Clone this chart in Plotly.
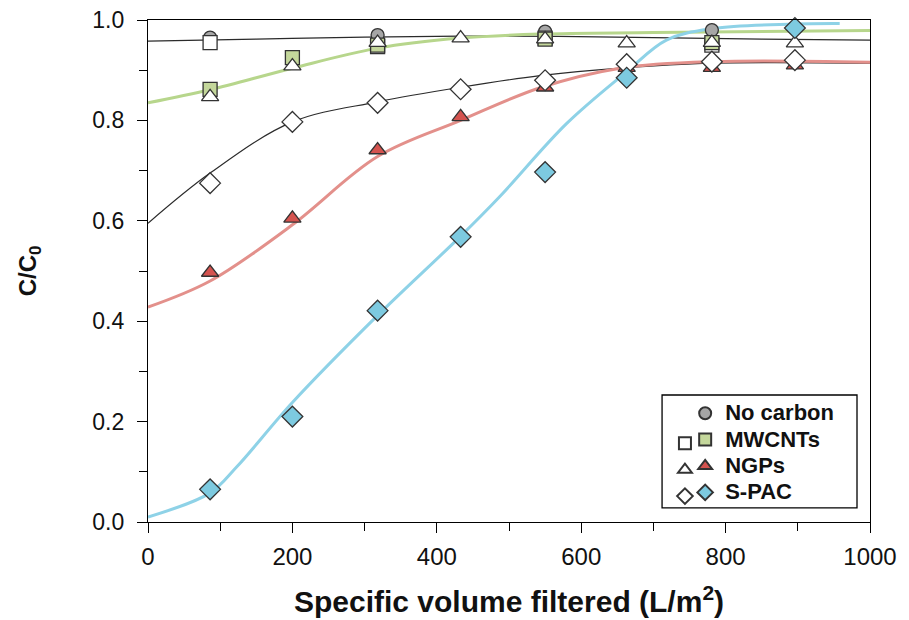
import plotly.graph_objects as go

# ---- data ----
# markers
nc_x = [86, 318, 550, 781]
nc_y = [0.965, 0.970, 0.977, 0.980]

mw_open_x = [86, 318, 550, 781]
mw_open_y = [0.955, 0.947, 0.964, 0.950]
mw_fill_x = [86, 200, 318, 550, 781]
mw_fill_y = [0.862, 0.925, 0.950, 0.962, 0.955]

ngp_open_x = [86, 200, 318, 433, 550, 663, 781, 896]
ngp_open_y = [0.847, 0.908, 0.955, 0.964, 0.962, 0.954, 0.955, 0.954]
ngp_fill_x = [86, 200, 318, 433, 550, 663, 781, 896]
ngp_fill_y = [0.497, 0.605, 0.741, 0.807, 0.866, 0.905, 0.905, 0.910]

spac_open_x = [86, 200, 318, 433, 550, 663, 781, 896]
spac_open_y = [0.675, 0.797, 0.835, 0.862, 0.880, 0.912, 0.917, 0.920]
spac_fill_x = [86, 200, 318, 433, 550, 663, 896]
spac_fill_y = [0.065, 0.210, 0.421, 0.568, 0.697, 0.885, 0.984]

# fitted curves (read at a few points, drawn as smooth splines)
fit_flat_x = [0, 150, 300, 500, 700, 850, 1000]
fit_flat_y = [0.958, 0.962, 0.966, 0.968, 0.965, 0.962, 0.960]

fit_mw_x = [0, 86, 200, 318, 433, 543, 700, 1000]
fit_mw_y = [0.835, 0.861, 0.904, 0.944, 0.964, 0.972, 0.975, 0.979]

fit_spac_open_x = [0, 86, 200, 318, 433, 543, 654, 782, 1000]
fit_spac_open_y = [0.595, 0.695, 0.797, 0.837, 0.866, 0.889, 0.904, 0.914, 0.914]

fit_ngp_x = [0, 86, 200, 318, 433, 543, 654, 782, 1000]
fit_ngp_y = [0.428, 0.480, 0.592, 0.728, 0.800, 0.865, 0.904, 0.917, 0.916]

fit_spac_x = [0, 86, 123, 200, 317, 432, 487, 580, 663, 718, 783, 894, 958]
fit_spac_y = [0.010, 0.058, 0.110, 0.238, 0.410, 0.568, 0.648, 0.794, 0.897, 0.960, 0.983, 0.992, 0.993]

x_ticks = [0, 200, 400, 600, 800, 1000]
y_ticks = [0.0, 0.2, 0.4, 0.6, 0.8, 1.0]

# ---- styles ----
EDGE = "#333333"
GRAY = "#a6a6a6"
GREEN = "#c4d79b"
GREEN_L = "#b7d68c"
RED = "#d4534f"
RED_L = "#e3908b"
BLUE = "#7dcae0"
BLUE_L = "#8ed2e7"
FONT = "Arial, Liberation Sans, sans-serif"
TXT = "#111111"

fig = go.Figure()

def line(x, y, color, width, name):
    fig.add_trace(go.Scatter(x=x, y=y, mode="lines", line=dict(color=color, width=width, shape="spline", smoothing=1.0),
                             name=name, showlegend=False, hoverinfo="skip"))

line(fit_flat_x, fit_flat_y, "#2b2b2b", 1.2, "fit flat")
line(fit_mw_x, fit_mw_y, GREEN_L, 3, "fit MWCNTs")
line(fit_spac_open_x, fit_spac_open_y, "#2b2b2b", 1.2, "fit S-PAC open")
line(fit_ngp_x, fit_ngp_y, RED_L, 3, "fit NGPs")
line(fit_spac_x, fit_spac_y, BLUE_L, 3, "fit S-PAC")

def pts(x, y, symbol, fill, size, name, legend):
    fig.add_trace(go.Scatter(x=x, y=y, mode="markers", name=name, legend=legend,
                             marker=dict(symbol=symbol, color=fill, size=size, line=dict(color=EDGE, width=1.3)),
                             cliponaxis=False))

LBL = "<b><span style='font-size:22px'>{}</span></b>"
BLANK = "\u00a0"
pts(nc_x, nc_y, "circle", GRAY, 13, LBL.format("No carbon"), "legend")
pts(mw_open_x, mw_open_y, "square", "white", 14, BLANK, "legend2")
pts(mw_fill_x, mw_fill_y, "square", GREEN, 14, LBL.format("MWCNTs"), "legend")
pts(ngp_open_x, ngp_open_y, "triangle-up", "white", 15, BLANK, "legend2")
pts(ngp_fill_x, ngp_fill_y, "triangle-up", RED, 15, LBL.format("NGPs"), "legend")
pts(spac_open_x, spac_open_y, "diamond", "white", 16, BLANK, "legend2")
pts(spac_fill_x, spac_fill_y, "diamond", BLUE, 16, LBL.format("S-PAC"), "legend")

axis_common = dict(showline=True, linecolor="black", linewidth=1.3, mirror=True, ticks="outside",
                   ticklen=10, tickwidth=1.3, tickcolor="black", showgrid=False, zeroline=False,
                   automargin=False)

fig.update_layout(
    width=909, height=620,
    margin=dict(l=148, r=39, t=20, b=98),
    paper_bgcolor="white", plot_bgcolor="white",
    font=dict(family=FONT, color=TXT),
    xaxis=dict(range=[0, 1000], tickvals=x_ticks, ticklabelstandoff=3,
               tickfont=dict(family=FONT, size=24, color=TXT),
               minor=dict(dtick=100, ticks="outside", ticklen=8, tickwidth=1.3, tickcolor="black"),
               title=dict(text="<b>Specific volume filtered (L/m<sup>2</sup>)</b>", font=dict(family=FONT, size=30), standoff=22),
               **axis_common),
    yaxis=dict(range=[0, 1], tickvals=y_ticks, tickformat=".1f", ticklabelstandoff=8,
               tickfont=dict(family=FONT, size=23, color=TXT),
               minor=dict(dtick=0.1, ticks="outside", ticklen=8, tickwidth=1.3, tickcolor="black"),
               title=dict(text="<b>C/C<sub>0</sub></b>", font=dict(family=FONT, size=24), standoff=48),
               **axis_common),
    legend=dict(x=0.744, y=0.253, xanchor="left", yanchor="top", bgcolor="rgba(0,0,0,0)",
                borderwidth=0, itemsizing="constant",
                font=dict(family=FONT, size=18, color=TXT)),
    legend2=dict(x=0.716, y=0.193, xanchor="left", yanchor="top", bgcolor="rgba(0,0,0,0)",
                 borderwidth=0, itemsizing="constant",
                 font=dict(family=FONT, size=18, color=TXT)),
    shapes=[dict(type="rect", xref="paper", yref="paper", x0=0.712, x1=0.982, y0=0.028, y1=0.253,
                 line=dict(color="black", width=1.3), fillcolor="rgba(0,0,0,0)", layer="below")],
)

fig.write_html("out.html")
